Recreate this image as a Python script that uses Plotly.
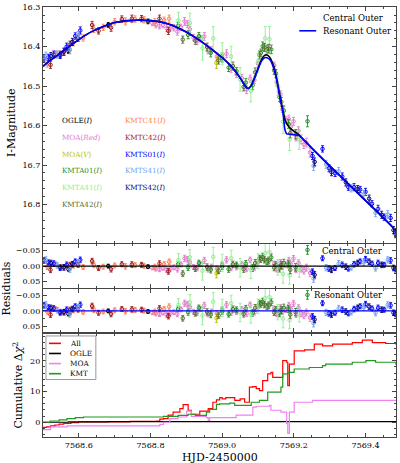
import plotly.graph_objects as go
from plotly.subplots import make_subplots

FONT = "DejaVu Serif"

# model light curves (HJD-2450000, I mag)
model_t = [7568.50, 7568.52, 7568.54, 7568.56, 7568.58, 7568.60, 7568.62, 7568.64, 7568.66,
           7568.68, 7568.70, 7568.72, 7568.74, 7568.76, 7568.78, 7568.80, 7568.82, 7568.84,
           7568.86, 7568.88, 7568.90, 7568.92, 7568.94, 7568.96, 7568.98, 7569.00, 7569.02,
           7569.04, 7569.055, 7569.065, 7569.072, 7569.08, 7569.09, 7569.10, 7569.11, 7569.118,
           7569.125, 7569.132, 7569.14, 7569.15, 7569.16, 7569.17, 7569.175, 7569.18, 7569.19,
           7569.20, 7569.215, 7569.25, 7569.30, 7569.35, 7569.40, 7569.45, 7569.485]
central_mag = [16.450, 16.435, 16.422, 16.408, 16.395, 16.382, 16.370, 16.360, 16.352,
               16.345, 16.339, 16.336, 16.334, 16.333, 16.333, 16.334, 16.336, 16.340,
               16.346, 16.354, 16.363, 16.374, 16.386, 16.399, 16.413, 16.428, 16.445,
               16.466, 16.486, 16.501, 16.506, 16.500, 16.480, 16.455, 16.432, 16.422,
               16.421, 16.426, 16.440, 16.472, 16.520, 16.565, 16.584, 16.595, 16.607,
               16.614, 16.624, 16.657, 16.702, 16.746, 16.790, 16.834, 16.866]
resonant_mag = [16.450, 16.435, 16.422, 16.408, 16.395, 16.382, 16.370, 16.360, 16.352,
                16.345, 16.339, 16.336, 16.334, 16.333, 16.333, 16.334, 16.336, 16.340,
                16.346, 16.354, 16.363, 16.374, 16.386, 16.399, 16.413, 16.428, 16.445,
                16.466, 16.486, 16.501, 16.506, 16.500, 16.480, 16.457, 16.436, 16.428,
                16.428, 16.432, 16.445, 16.476, 16.522, 16.570, 16.610, 16.621, 16.622,
                16.623, 16.626, 16.657, 16.702, 16.746, 16.790, 16.834, 16.866]

# data sets: time, magnitude, error, residual
ogle_t = [7568.571, 7568.682, 7568.793]
ogle_mag = [16.411, 16.345, 16.336]
ogle_err = [0.006, 0.006, 0.006]
ogle_res = [0.010, 0.000, 0.002]

moa_t = [7568.805, 7568.815, 7568.825, 7568.835, 7568.845, 7568.855, 7568.865, 7568.875, 7568.885,
         7568.895, 7568.903, 7568.910, 7568.920, 7568.930, 7568.940, 7568.950, 7568.960, 7568.970,
         7568.985, 7569.000, 7569.012, 7569.025, 7569.040, 7569.055, 7569.068, 7569.078, 7569.090,
         7569.100, 7569.145, 7569.152, 7569.158, 7569.163, 7569.168, 7569.178, 7569.186, 7569.192,
         7569.199, 7569.206, 7569.213, 7569.220, 7569.228, 7569.235, 7569.245]
moa_mag = [16.340, 16.344, 16.347, 16.345, 16.353, 16.352, 16.352, 16.362, 16.351,
           16.336, 16.343, 16.356, 16.377, 16.386, 16.380, 16.374, 16.409, 16.408,
           16.425, 16.424, 16.418, 16.456, 16.470, 16.480, 16.509, 16.481, 16.485,
           16.443, 16.447, 16.490, 16.514, 16.521, 16.559, 16.586, 16.584, 16.603,
           16.589, 16.630, 16.613, 16.635, 16.648, 16.643, 16.668]
moa_err = [0.007, 0.008, 0.008, 0.007, 0.009, 0.008, 0.008, 0.009, 0.008,
           0.010, 0.009, 0.008, 0.008, 0.009, 0.008, 0.010, 0.009, 0.008,
           0.009, 0.008, 0.010, 0.009, 0.008, 0.009, 0.010, 0.009, 0.008,
           0.009, 0.008, 0.009, 0.010, 0.009, 0.008, 0.009, 0.010, 0.009,
           0.010, 0.009, 0.010, 0.011, 0.010, 0.011, 0.012]
moa_res = [0.005, 0.008, 0.010, 0.006, 0.012, 0.008, 0.004, 0.010, -0.005,
           -0.025, -0.022, -0.012, 0.003, 0.006, -0.006, -0.018, 0.010, 0.002,
           0.008, -0.004, -0.020, 0.006, 0.004, -0.005, 0.008, -0.020, 0.005,
           -0.012, -0.008, 0.010, 0.004, -0.012, 0.003, -0.004, -0.018, -0.005,
           -0.024, 0.012, -0.010, 0.008, 0.015, 0.005, 0.022]

moav_t = [7568.984]
moav_mag = [16.441]
moav_err = [0.014]
moav_res = [0.024]

kmta01_t = [7568.877, 7568.905, 7568.935, 7568.968, 7569.000, 7569.018, 7569.040, 7569.066, 7569.085,
            7569.104, 7569.113, 7569.125, 7569.137, 7569.150, 7569.160, 7569.172, 7569.185, 7569.205,
            7569.238]
kmta01_mag = [16.347, 16.370, 16.373, 16.416, 16.430, 16.453, 16.462, 16.491, 16.498,
              16.421, 16.399, 16.406, 16.407, 16.468, 16.528, 16.562, 16.596, 16.622,
              16.589]
kmta01_err = [0.008, 0.010, 0.009, 0.010, 0.009, 0.010, 0.009, 0.010, 0.011,
              0.010, 0.011, 0.010, 0.011, 0.010, 0.011, 0.012, 0.011, 0.012,
              0.014]
kmta01_res = [-0.006, 0.004, -0.010, 0.012, 0.002, 0.010, -0.004, -0.008, 0.006,
              -0.025, -0.030, -0.015, -0.028, -0.004, 0.008, -0.010, -0.006, 0.004,
              -0.052]

kmta41_t = [7568.878, 7568.910, 7568.945, 7568.975, 7569.000, 7569.025, 7569.050, 7569.080,
            7569.100, 7569.120, 7569.132, 7569.155, 7569.170, 7569.188, 7569.215]
kmta41_mag = [16.333, 16.340, 16.404, 16.379, 16.418, 16.425, 16.483, 16.512,
              16.440, 16.379, 16.381, 16.499, 16.590, 16.635, 16.636]
kmta41_err = [0.020, 0.025, 0.030, 0.030, 0.028, 0.026, 0.030, 0.028,
              0.024, 0.030, 0.032, 0.025, 0.030, 0.028, 0.024]
kmta41_res = [-0.020, -0.028, 0.015, -0.030, -0.010, -0.025, 0.005, 0.012,
              -0.015, -0.042, -0.045, 0.004, 0.025, 0.030, 0.012]

kmta42_t = [7568.890, 7568.925, 7568.958, 7568.990, 7569.030, 7569.060, 7569.092,
            7569.108, 7569.118, 7569.130, 7569.145, 7569.165, 7569.190]
kmta42_mag = [16.382, 16.385, 16.401, 16.435, 16.449, 16.502, 16.465,
              16.416, 16.402, 16.405, 16.460, 16.540, 16.619]
kmta42_err = [0.009, 0.009, 0.010, 0.009, 0.010, 0.010, 0.011,
              0.010, 0.010, 0.011, 0.010, 0.011, 0.012]
kmta42_res = [0.024, 0.008, 0.003, 0.015, -0.006, 0.010, -0.010,
              -0.022, -0.020, -0.018, 0.005, -0.003, 0.012]

kmtc41_t = [7568.512, 7568.535, 7568.560, 7568.585, 7568.612, 7568.642, 7568.668,
            7568.700, 7568.730, 7568.757, 7568.782, 7568.812, 7568.838, 7568.852]
kmtc41_mag = [16.443, 16.419, 16.412, 16.390, 16.378, 16.355, 16.351,
              16.337, 16.336, 16.330, 16.332, 16.338, 16.333, 16.329]
kmtc41_err = [0.009, 0.008, 0.009, 0.008, 0.008, 0.009, 0.008,
              0.008, 0.009, 0.008, 0.008, 0.009, 0.008, 0.009]
kmtc41_res = [0.002, -0.006, 0.004, -0.002, 0.003, -0.004, 0.002,
              -0.002, 0.001, -0.003, -0.001, 0.003, -0.006, -0.014]

kmtc42_t = [7568.521, 7568.548, 7568.575, 7568.598, 7568.637, 7568.655,
            7568.690, 7568.720, 7568.748, 7568.775, 7568.825, 7568.850]
kmtc42_mag = [16.446, 16.419, 16.395, 16.379, 16.345, 16.360,
              16.352, 16.330, 16.329, 16.329, 16.329, 16.360]
kmtc42_err = [0.009, 0.008, 0.009, 0.008, 0.009, 0.008,
              0.009, 0.008, 0.009, 0.008, 0.009, 0.009]
kmtc42_res = [0.012, 0.003, -0.003, -0.004, -0.016, 0.006,
              0.010, -0.006, -0.005, -0.004, -0.008, 0.017]

kmts01_t = [7568.503, 7568.515, 7568.530, 7568.548, 7568.566, 7568.590, 7568.604,
            7569.252, 7569.280, 7569.298, 7569.315, 7569.335, 7569.352, 7569.368,
            7569.385, 7569.400, 7569.418, 7569.435, 7569.452, 7569.470, 7569.484]
kmts01_mag = [16.430, 16.427, 16.420, 16.422, 16.400, 16.373, 16.359,
              16.677, 16.659, 16.708, 16.721, 16.729, 16.756, 16.756,
              16.762, 16.768, 16.798, 16.811, 16.832, 16.834, 16.875]
kmts01_err = [0.009, 0.008, 0.009, 0.008, 0.009, 0.008, 0.009,
              0.009, 0.008, 0.009, 0.008, 0.009, 0.008, 0.009,
              0.008, 0.009, 0.008, 0.009, 0.008, 0.009, 0.009]
kmts01_res = [-0.018, -0.012, -0.008, 0.006, -0.004, -0.015, -0.020,
              0.018, -0.025, 0.008, 0.006, -0.004, 0.008, -0.006,
              -0.015, -0.022, -0.008, -0.010, -0.004, -0.018, 0.010]

kmts41_t = [7568.508, 7568.540, 7568.575, 7568.598, 7569.255, 7569.290,
            7569.325, 7569.360, 7569.395, 7569.428, 7569.462]
kmts41_mag = [16.424, 16.420, 16.408, 16.371, 16.702, 16.698,
              16.716, 16.759, 16.774, 16.821, 16.825]
kmts41_err = [0.010, 0.009, 0.010, 0.009, 0.012, 0.010,
              0.010, 0.009, 0.010, 0.010, 0.010]
kmts41_res = [-0.020, -0.002, 0.010, -0.012, 0.040, 0.005,
              -0.008, 0.004, -0.012, 0.006, -0.020]

kmts42_t = [7568.522, 7568.558, 7568.582, 7569.258, 7569.305,
            7569.345, 7569.378, 7569.410, 7569.445, 7569.478]
kmts42_mag = [16.424, 16.413, 16.388, 16.692, 16.718,
              16.744, 16.761, 16.785, 16.826, 16.865]
kmts42_err = [0.009, 0.009, 0.009, 0.010, 0.009,
              0.009, 0.009, 0.009, 0.009, 0.009]
kmts42_res = [-0.010, 0.004, -0.006, 0.028, 0.012,
              0.002, -0.010, -0.014, -0.004, 0.006]

# cumulative delta chi^2
chi_all_t = [7568.500, 7568.510, 7568.521, 7568.533, 7568.545, 7568.558, 7568.578, 7568.599,
             7568.743, 7568.817, 7568.826, 7568.836, 7568.849, 7568.863, 7568.882, 7568.891,
             7568.905, 7568.914, 7568.9375, 7568.961, 7568.974, 7568.984, 7568.993, 7569.000,
             7569.010, 7569.035, 7569.050, 7569.0625, 7569.076, 7569.0855, 7569.095, 7569.104,
             7569.113, 7569.127, 7569.136, 7569.141, 7569.169, 7569.180, 7569.183, 7569.1875,
             7569.201, 7569.230, 7569.257, 7569.280, 7569.308, 7569.345, 7569.363, 7569.391,
             7569.419, 7569.456, 7569.485]
chi_all = [-1.7, -1.5, -1.2, -0.9, -0.6, -0.4, -0.1, 0.1,
           0.3, 0.4, 1.0, 1.2, 2.3, 3.3, 4.4, 5.7,
           3.9, 2.6, 3.6, 4.4, 6.5, 7.3, 8.0, 7.6,
           8.0, 7.1, 7.6, 6.5, 11.4, 11.6, 10.9, 10.3,
           13.5, 15.7, 16.2, 14.6, 20.0, 19.5, 11.9, 18.9,
           23.2, 23.5, 25.4, 24.8, 25.4, 25.4, 25.9, 26.7,
           25.9, 25.6, 25.2]
chi_ogle_t = [7568.500, 7568.571, 7568.682, 7568.793, 7569.485]
chi_ogle = [0.0, 0.1, 0.2, 0.2, 0.2]
chi_moa_t = [7568.500, 7568.521, 7568.567, 7568.826, 7568.836, 7568.854, 7568.877, 7568.901,
             7568.914, 7568.956, 7568.961, 7568.965, 7569.039, 7569.0855, 7569.095, 7569.132,
             7569.136, 7569.164, 7569.180, 7569.183, 7569.1875, 7569.201, 7569.252, 7569.485]
chi_moa = [-2.4, -1.5, -1.2, -0.7, 0.0, 1.2, 1.7, 3.6,
           1.9, 1.5, 0.6, 1.5, 2.3, 4.9, 5.2, 5.5,
           3.9, 3.3, -0.4, -3.6, 3.3, 6.5, 7.1, 7.1]
chi_kmt_t = [7568.500, 7568.520, 7568.545, 7568.567, 7568.590, 7568.613, 7568.836, 7568.877,
             7568.905, 7568.925, 7568.956, 7568.965, 7568.984, 7568.993, 7569.021, 7569.035,
             7569.081, 7569.104, 7569.127, 7569.164, 7569.169, 7569.183, 7569.201, 7569.243,
             7569.280, 7569.289, 7569.363, 7569.401, 7569.428, 7569.485]
chi_kmt = [0.0, 0.4, 0.8, 1.2, 1.5, 1.7, 1.9, 2.2,
           2.6, 2.2, 3.3, 4.2, 5.8, 6.0, 6.2, 5.5,
           6.5, 7.1, 9.8, 11.4, 15.7, 16.2, 17.3, 17.8,
           18.4, 18.9, 19.5, 20.0, 19.5, 18.7]

label_col1 = ["OGLE(<i>I</i>)", "MOA(<i>Red</i>)", "MOA(<i>V</i>)",
              "KMTA01(<i>I</i>)", "KMTA41(<i>I</i>)", "KMTA42(<i>I</i>)"]
label_col2 = ["KMTC41(<i>I</i>)", "KMTC42(<i>I</i>)", "KMTS01(<i>I</i>)",
              "KMTS41(<i>I</i>)", "KMTS42(<i>I</i>)"]
model_names = ["Central Outer", "Resonant Outer"]
chi_names = ["All", "OGLE", "MOA", "KMT"]

colors = {
    "OGLE": "#000000", "MOA": "#e07ccc", "MOAV": "#bfbf00", "KMTA01": "#1f8f1f",
    "KMTA41": "#90ee90", "KMTA42": "#556b2f", "KMTC41": "#ff7f50", "KMTC42": "#a01515",
    "KMTS01": "#0000ff", "KMTS41": "#6f9ff0", "KMTS42": "#000080",
}
col1_colors = [colors[k] for k in ["OGLE", "MOA", "MOAV", "KMTA01", "KMTA41", "KMTA42"]]
col2_colors = [colors[k] for k in ["KMTC41", "KMTC42", "KMTS01", "KMTS41", "KMTS42"]]
model_colors = ["#000000", "#0000ff"]
chi_colors = ["#ff0000", "#000000", "#ee82ee", "#1f9a1f"]

datasets = [
    ("OGLE", ogle_t, ogle_mag, ogle_err, ogle_res),
    ("MOA", moa_t, moa_mag, moa_err, moa_res),
    ("MOAV", moav_t, moav_mag, moav_err, moav_res),
    ("KMTA01", kmta01_t, kmta01_mag, kmta01_err, kmta01_res),
    ("KMTA41", kmta41_t, kmta41_mag, kmta41_err, kmta41_res),
    ("KMTA42", kmta42_t, kmta42_mag, kmta42_err, kmta42_res),
    ("KMTC41", kmtc41_t, kmtc41_mag, kmtc41_err, kmtc41_res),
    ("KMTC42", kmtc42_t, kmtc42_mag, kmtc42_err, kmtc42_res),
    ("KMTS01", kmts01_t, kmts01_mag, kmts01_err, kmts01_res),
    ("KMTS41", kmts41_t, kmts41_mag, kmts41_err, kmts41_res),
    ("KMTS42", kmts42_t, kmts42_mag, kmts42_err, kmts42_res),
]

fig = make_subplots(rows=4, cols=1, shared_xaxes=True, vertical_spacing=0.003)

# layout helpers: page pixel -> paper fraction
L, T, W, H = 43, 3, 354, 434
def px_x(p):
    return (p - L) / W
def px_y(p):
    return (T + H - p) / H

for name, t, mag, err, res in datasets:
    c = colors[name]
    marker = dict(symbol="circle-open", size=3.5, color=c, line=dict(width=1, color=c))
    for row, yv in [(1, mag), (2, res), (3, res)]:
        fig.add_trace(go.Scatter(
            x=t, y=yv, mode="markers", marker=marker, showlegend=False,
            error_y=dict(type="data", array=err, color=c, thickness=0.9, width=1.5),
        ), row=row, col=1)

for name, yv, c in zip(model_names, [central_mag, resonant_mag], model_colors):
    fig.add_trace(go.Scatter(x=model_t, y=yv, mode="lines", name=name, showlegend=False,
                             line=dict(color=c, width=1.6, shape="spline", smoothing=0.6)),
                  row=1, col=1)

fig.add_hline(y=0, line=dict(color="black", width=1.3), row=2, col=1)
fig.add_hline(y=0, line=dict(color="#0000ff", width=1.3), row=3, col=1)

chi_series = [(chi_all_t, chi_all), (chi_ogle_t, chi_ogle), (chi_moa_t, chi_moa), (chi_kmt_t, chi_kmt)]
for name, (t, v), c in zip(chi_names, chi_series, chi_colors):
    fig.add_trace(go.Scatter(x=t, y=v, mode="lines", name=name, showlegend=False,
                             line=dict(color=c, width=1.2, shape="hv")), row=4, col=1)

axis_common = dict(showline=True, mirror="ticks", linecolor="#444", linewidth=1.2,
                   ticks="inside", ticklen=4, tickwidth=1, tickcolor="#444",
                   showgrid=False, zeroline=False,
                   tickfont=dict(family=FONT, size=8, color="black"))

for i in range(1, 5):
    fig.update_xaxes(axis_common, row=i, col=1, range=[7568.5, 7569.485],
                     tick0=7568.6, dtick=0.2, tickformat=".1f",
                     minor=dict(ticks="inside", ticklen=2, tickcolor="#444", dtick=0.05))

fig.update_yaxes(axis_common, row=1, col=1, range=[16.897, 16.2995], tick0=16.3, dtick=0.1,
                 tickformat=".1f", ticklabeloverflow="allow",
                 minor=dict(ticks="inside", ticklen=2, tickcolor="#444", dtick=0.02))
for r in (2, 3):
    fig.update_yaxes(axis_common, row=r, col=1, range=[0.07, -0.07],
                     tickvals=[-0.05, 0, 0.05], ticktext=["\u22120.05", "0.00", "0.05"],
                     minor=dict(ticks="inside", ticklen=2, tickcolor="#444", dtick=0.025, tick0=0))
fig.update_yaxes(axis_common, row=4, col=1, range=[-4.8, 28.7], tickvals=[0, 10, 20],
                 minor=dict(ticks="inside", ticklen=2, tickcolor="#444", dtick=2, tick0=0))

fig.update_layout(
    yaxis=dict(domain=[px_y(241), 1]),
    yaxis2=dict(domain=[px_y(286.5), px_y(242.5)]),
    yaxis3=dict(domain=[px_y(331.5), px_y(288)]),
    yaxis4=dict(domain=[0, px_y(333)]),
)

def note(text, x, y, size, color="black", xanchor="left", angle=0):
    return dict(text=text, x=px_x(x), y=px_y(y), xref="paper", yref="paper",
                xanchor=xanchor, yanchor="middle", showarrow=False, textangle=angle,
                font=dict(family=FONT, size=size, color=color))

annotations = []
shapes = []
rows_y = [118, 135, 152, 168.5, 185, 202]
for lab, c, ry in zip(label_col1, col1_colors, rows_y):
    annotations.append(note(lab, 60, ry, 7.2, c))
for lab, c, ry in zip(label_col2, col2_colors, rows_y):
    annotations.append(note(lab, 123, ry, 7.2, c))

# legend boxes drawn by hand (plotly legend rows are too tall here)
def legend_box(names, cols, x0, x1, y0, y1, first_row, step, line_x0, line_x1, text_x, size):
    shapes.append(dict(type="rect", xref="paper", yref="paper", x0=px_x(x0), x1=px_x(x1),
                       y0=px_y(y1), y1=px_y(y0), fillcolor="white", layer="above",
                       line=dict(color="#999999", width=1)))
    for k, (nm, c) in enumerate(zip(names, cols)):
        yy = first_row + k * step
        shapes.append(dict(type="line", xref="paper", yref="paper", x0=px_x(line_x0),
                           x1=px_x(line_x1), y0=px_y(yy), y1=px_y(yy), layer="above",
                           line=dict(color=c, width=1.6)))
        annotations.append(note(nm, text_x, yy, size))

legend_box(model_names, model_colors, 297, 395, 6, 35, 14.5, 12.5, 300, 317, 322, 8.5)
legend_box(chi_names, chi_colors, 46, 96, 335, 379, 342.5, 10.2, 49, 61, 68, 7.3)

annotations += [
    note("Central Outer", 386, 249, 8.5, xanchor="right"),
    note("Resonant Outer", 386, 294, 8.5, xanchor="right"),
    note("I-Magnitude", 12, 120, 11, xanchor="center", angle=-90),
    note("Residuals", 6, 287, 11, xanchor="center", angle=-90),
    note("Cumulative \u0394<i>\u03c7</i><sup>2</sup>", 18, 385, 11, xanchor="center", angle=-90),
    note("HJD-2450000", 221, 457.5, 11, xanchor="center"),
]

fig.update_layout(
    width=400, height=463,
    margin=dict(l=L, r=400 - L - W, t=T, b=463 - T - H),
    paper_bgcolor="white", plot_bgcolor="white",
    font=dict(family=FONT, size=8, color="black"),
    annotations=annotations, shapes=shapes,
    showlegend=False,
)

fig.write_html("out.html", config={"displayModeBar": False},
               post_script="document.body.style.margin='0';")
